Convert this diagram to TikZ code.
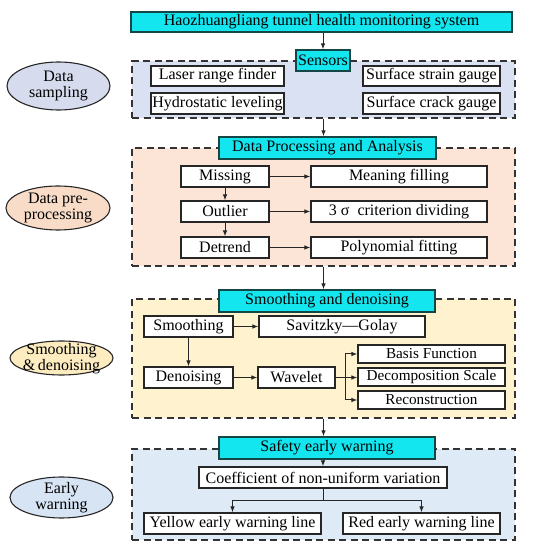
\documentclass[tikz,border=0pt]{standalone}
\usepackage{fontspec}
\setmainfont{Liberation Serif}
\usetikzlibrary{arrows.meta}
\definecolor{cyanfill}{RGB}{20,230,240}
\definecolor{cyanline}{RGB}{20,70,70}
\definecolor{bgone}{RGB}{218,225,242}
\definecolor{bgtwo}{RGB}{252,228,214}
\definecolor{bgthree}{RGB}{255,242,206}
\definecolor{bgfour}{RGB}{222,235,247}
\definecolor{elone}{RGB}{214,220,238}
\definecolor{eltwo}{RGB}{248,220,200}
\definecolor{elthree}{RGB}{252,236,192}
\definecolor{elfour}{RGB}{214,228,244}
\tikzset{
  every node/.style={font=\fontsize{16}{18}\selectfont, inner sep=0pt},
  headbox/.style={draw=cyanline, line width=1.2pt, fill=cyanfill, anchor=center},
  itembox/.style={draw=black!85, line width=1.1pt, fill=white, anchor=center},
  smallbox/.style={itembox, font=\fontsize{15.2}{17}\selectfont},
  groupbox/.style={draw=black!80, line width=1.1pt, dash pattern=on 7pt off 4.5pt, anchor=center},
  elltext/.style={align=center, font=\fontsize{16}{16.5}\selectfont},
  ellline/.style={draw=black!85, line width=1.1pt},
  arr/.style={-{Latex[length=6pt,width=4.5pt]}, line width=1pt, draw=black!85},
  plain/.style={line width=1pt, draw=black!85}
}
\begin{document}
\begin{tikzpicture}[x=1pt,y=-1pt]
\useasboundingbox (0,0) rectangle (550,548);
% ---------- group 1 ----------
\node[groupbox, fill=bgone, minimum width=383, minimum height=57] (g1) at (323.5,89.5) {};
\node[headbox, minimum width=381, minimum height=20] (title) at (321.5,22) {Haozhuangliang tunnel health monitoring system};
\node[headbox, minimum width=54, minimum height=21] (sens) at (323,60.5) {Sensors};
\node[itembox, minimum width=133, minimum height=20] (laser) at (217.5,76) {Laser range finder};
\node[itembox, minimum width=133, minimum height=21] (hydro) at (217.5,103.5) {Hydrostatic leveling};
\node[itembox, minimum width=137, minimum height=20] (strain) at (431.5,76) {Surface strain gauge};
\node[itembox, minimum width=137, minimum height=21] (crack) at (431.5,103.5) {Surface crack gauge};
\draw[arr] (title.south -| sens.north) -- (sens.north);
% ---------- group 2 ----------
\node[groupbox, fill=bgtwo, minimum width=383, minimum height=118] (g2) at (323.5,207) {};
\node[headbox, minimum width=217, minimum height=22] (dpa) at (327.5,148) {Data Processing and Analysis};
\node[itembox, minimum width=88, minimum height=21] (miss) at (225,176.5) {Missing};
\node[itembox, minimum width=176, minimum height=21] (mean) at (399,176.5) {Meaning filling};
\node[itembox, minimum width=88, minimum height=21] (outl) at (225,211.5) {Outlier};
\node[itembox, minimum width=176, minimum height=21] (sigma) at (399,211.5) {3 σ\ \ criterion dividing};
\node[itembox, minimum width=88, minimum height=21] (detr) at (225,247.5) {Detrend};
\node[itembox, minimum width=176, minimum height=21] (poly) at (399,247.5) {Polynomial fitting};
\draw[arr] (g1.south) -- (g1.south |- dpa.north);
\draw[arr] (miss) -- (mean);
\draw[arr] (outl) -- (sigma);
\draw[arr] (detr) -- (poly);
\draw[arr] (miss) -- (outl);
\draw[arr] (outl) -- (detr);
% ---------- group 3 ----------
\node[groupbox, fill=bgthree, minimum width=383, minimum height=119] (g3) at (323.5,358.5) {};
\node[headbox, minimum width=216, minimum height=22] (smd) at (327,301) {Smoothing and denoising};
\node[itembox, minimum width=89, minimum height=21] (smo) at (188.5,326.5) {Smoothing};
\node[itembox, minimum width=166, minimum height=21] (sav) at (342,326.5) {Savitzky—Golay};
\node[itembox, minimum width=89, minimum height=21] (den) at (188.5,377.5) {Denoising};
\node[itembox, minimum width=77, minimum height=21] (wav) at (296.5,377.5) {Wavelet};
\node[smallbox, minimum width=147, minimum height=18] (basis) at (431.5,354) {Basis Function};
\node[smallbox, minimum width=147, minimum height=18] (decomp) at (431.5,377) {Decomposition Scale};
\node[smallbox, minimum width=147, minimum height=18] (recon) at (431.5,400) {Reconstruction};
\coordinate (fork) at (345,377.5);
\draw[arr] (g2.south) -- (g2.south |- smd.north);
\draw[arr] (smo) -- (sav);
\draw[arr] (den) -- (wav);
\draw[arr] (smo) -- (den);
\draw[plain] (wav.east) -- (fork);
\draw[arr] (fork) |- (basis.west);
\draw[arr] (fork) -- (decomp.west |- fork);
\draw[arr] (fork) |- (recon.west);
% ---------- group 4 ----------
\node[groupbox, fill=bgfour, minimum width=383, minimum height=91] (g4) at (323.5,494.5) {};
\node[headbox, minimum width=216, minimum height=22] (safe) at (327,448) {Safety early warning};
\node[itembox, minimum width=248, minimum height=21] (coef) at (323,477.5) {Coefficient of non-uniform variation};
\node[itembox, minimum width=177, minimum height=21] (yel) at (232.5,523.5) {Yellow early warning line};
\node[itembox, minimum width=157, minimum height=21] (red) at (421.5,523.5) {Red early warning line};
\coordinate (split) at (323,501);
\draw[arr] (g3.south) -- (g3.south |- safe.north);
\draw[arr] (safe.south -| coef.north) -- (coef.north);
\draw[plain] (coef.south) -- (split);
\draw[arr] (split) -| (yel.north);
\draw[arr] (split) -| (red.north);
% ---------- ellipses ----------
\draw[ellline, fill=elone] (58.5,86) ellipse (51.5 and 24);
\node[elltext] (e1) at (58.5,86) {Data\\sampling};
\draw[ellline, fill=eltwo] (58,208) ellipse (52 and 22);
\node[elltext] (e2) at (58,208) {Data pre-\\processing};
\draw[ellline, fill=elthree] (61.5,358) ellipse (51.5 and 17);
\node[elltext] (e3) at (61.5,358.5) {Smoothing\\\&\,denoising};
\draw[ellline, fill=elfour] (61.5,497.5) ellipse (51.5 and 20.5);
\node[elltext] (e4) at (61.5,497.5) {Early\\warning};
\end{tikzpicture}
\end{document}
